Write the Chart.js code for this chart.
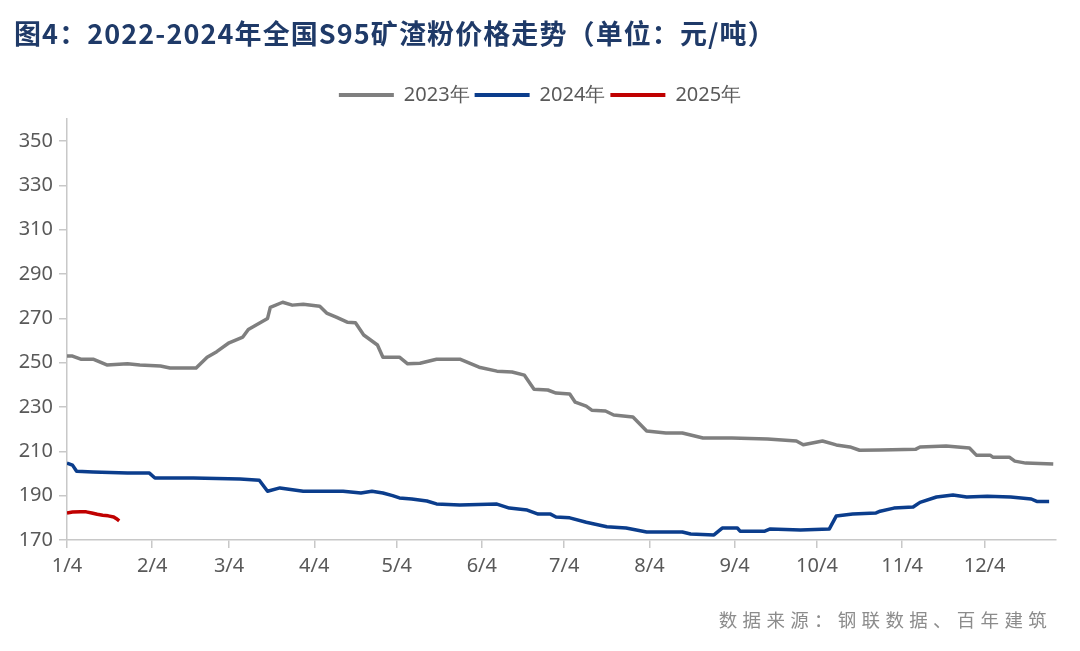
<!DOCTYPE html>
<html>
<head>
<meta charset="utf-8">
<script src="https://cdn.jsdelivr.net/npm/chart.js@4.4.1/dist/chart.umd.min.js"></script>
<style>
  body { margin: 0; background: #fff; }
  .wrap { position: relative; width: 1080px; height: 651px; overflow: hidden; }
  .title { position: absolute; left: 14px; top: 13px; font-family: "Noto Sans CJK SC", sans-serif; font-weight: 700; font-size: 27px; letter-spacing: 1.1px; color: #1f3a68; white-space: nowrap; line-height: 40px; }
  .source { position: absolute; right: 28px; top: 606px; font-family: "Noto Sans CJK SC", sans-serif; font-size: 18.5px; color: #8c8c8c; letter-spacing: 5.3px; white-space: nowrap; }
  .box { position: absolute; left: 0; top: 0; width: 1080px; height: 651px; }
</style>
</head>
<body>
<div class="wrap">
  <div class="box"><canvas id="chart"></canvas></div>
  <div class="title">图4：2022-2024年全国S95矿渣粉价格走势（单位：元/吨）</div>
  <div class="source">数据来源：钢联数据、百年建筑</div>
</div>
<script>
// x positions are days counted from 1/4
const tickDays = [0, 31, 59, 90, 120, 151, 181, 212, 243, 273, 304, 334];
const tickLabels = ["1/4", "2/4", "3/4", "4/4", "5/4", "6/4", "7/4", "8/4", "9/4", "10/4", "11/4", "12/4"];
const yTicks = [170, 190, 210, 230, 250, 270, 290, 310, 330, 350];

const days2023 = [0, 2, 5, 9.5, 14.5, 22, 26.5, 34, 37.5, 47, 51, 54.5, 59, 64, 66, 73, 74, 78.5, 82, 86, 92, 94.5, 98, 102, 105, 108, 113, 115, 121, 124, 128.5, 134.5, 143, 146.5, 150, 156.5, 162, 166.5, 170, 175, 178, 183, 185, 189, 191, 196, 199, 206, 211, 218, 224, 231.5, 242, 255, 265.5, 268, 275, 280, 285, 288.5, 296, 309, 310.5, 320, 328.5, 331, 336, 337, 343, 345, 349, 359];
const price2023 = [253, 253, 251.6, 251.6, 249, 249.5, 249, 248.5, 247.6, 247.6, 252.5, 255, 259, 261.6, 265, 270, 275, 277.3, 276, 276.4, 275.5, 272.4, 270.6, 268.3, 268, 262.5, 258, 252.5, 252.5, 249.5, 249.8, 251.6, 251.6, 249.8, 248, 246.2, 245.8, 244.4, 238, 237.7, 236.3, 235.9, 232.2, 230.4, 228.6, 228.2, 226.4, 225.5, 219.2, 218.3, 218.3, 216, 216, 215.6, 214.7, 213, 214.7, 212.9, 212, 210.5, 210.6, 211, 212, 212.4, 211.5, 208.3, 208.3, 207.4, 207.4, 205.6, 204.7, 204.3];

const days2024 = [0, 2, 3.5, 9.5, 22, 30, 32, 46, 63, 70, 73, 77.5, 86, 100.5, 107, 111, 115, 118.5, 121, 125.5, 131, 134.5, 143, 156.5, 161, 167.5, 171.5, 176, 178, 183, 189, 196.5, 203.5, 211, 218, 224, 227, 235.5, 238.5, 244, 245, 254, 256, 267, 277.5, 280, 286, 294.5, 296, 301, 308, 310.5, 316.5, 322.5, 327.5, 335, 343.5, 351, 353, 357.5];
const price2024 = [204.7, 203.8, 201, 200.7, 200.2, 200.2, 198, 198, 197.5, 197, 192, 193.5, 192, 192, 191.2, 192, 191.2, 190, 189, 188.5, 187.6, 186.3, 185.8, 186.2, 184.4, 183.5, 181.7, 181.7, 180.4, 180, 178, 176, 175.4, 173.6, 173.6, 173.6, 172.7, 172.3, 175.4, 175.4, 174, 174, 175, 174.5, 175, 180.8, 181.7, 182.2, 183, 184.4, 184.9, 187, 189.4, 190.3, 189.4, 189.8, 189.4, 188.5, 187.4, 187.4];

const days2025 = [0, 2, 5, 7, 9, 11, 13, 15, 17, 18, 19];
const price2025 = [182.2, 182.6, 182.8, 182.7, 182.2, 181.6, 181.2, 180.9, 180.4, 179.6, 178.6];

const toPoints = (xs, ys) => xs.map((x, i) => ({ x: x, y: ys[i] }));

// extra space under the legend, and centre it on the page
const legendGap = {
  id: "legendGap",
  beforeInit(chart) {
    const fit = chart.legend.fit;
    chart.legend.fit = function () {
      fit.bind(chart.legend)();
      this.height += 4;
    };
  },
  afterLayout(chart) {
    chart.legend.left += 12;
    chart.legend.right += 12;
  }
};

new Chart(document.getElementById("chart"), {
  type: "line",
  data: {
    datasets: [
      { label: "2023年", data: toPoints(days2023, price2023), borderColor: "#7f7f7f", backgroundColor: "#7f7f7f" },
      { label: "2024年", data: toPoints(days2024, price2024), borderColor: "#0b3d8c", backgroundColor: "#0b3d8c" },
      { label: "2025年", data: toPoints(days2025, price2025), borderColor: "#c00000", backgroundColor: "#c00000" },
    ],
  },
  options: {
    responsive: true,
    maintainAspectRatio: false,
    animation: false,
    datasets: { line: { borderWidth: 3.5, pointRadius: 0, tension: 0, borderJoinStyle: "round" } },
    layout: { padding: { left: 0, right: 24, top: 80, bottom: 71 } },
    plugins: {
      tooltip: { enabled: false },
      legend: {
        position: "top",
        labels: {
          boxWidth: 55,
          boxHeight: 4,
          padding: 5,
          color: "#595959",
          font: { family: "Noto Sans", size: 20 },
          generateLabels: chart =>
            Chart.defaults.plugins.legend.labels.generateLabels(chart).map(l => ({ ...l, fillStyle: l.strokeStyle, lineWidth: 0 })),
        },
      },
    },
    scales: {
      x: {
        type: "linear",
        min: 0,
        max: 360,
        afterBuildTicks: axis => { axis.ticks = tickDays.map(v => ({ value: v })); },
        afterFit: axis => { axis.height = 40; },
        ticks: {
          autoSkip: false,
          maxRotation: 0,
          padding: 6,
          color: "#595959",
          font: { family: "Noto Sans", size: 20 },
          callback: (v, i) => tickLabels[i],
        },
        grid: { drawOnChartArea: false, drawTicks: true, tickLength: 8, color: "#c8c8c8", lineWidth: 1.5 },
        border: { color: "#c8c8c8", width: 1.5 },
      },
      y: {
        min: 170,
        max: 360,
        afterBuildTicks: axis => { axis.ticks = yTicks.map(v => ({ value: v })); },
        afterFit: axis => { axis.width = 67; },
        ticks: {
          padding: 6,
          color: "#595959",
          font: { family: "Noto Sans", size: 20 },
        },
        grid: { drawOnChartArea: false, drawTicks: true, tickLength: 8, color: "#c8c8c8", lineWidth: 1.5 },
        border: { color: "#c8c8c8", width: 1.5 },
      },
    },
  },
  plugins: [legendGap],
});
</script>
</body>
</html>
